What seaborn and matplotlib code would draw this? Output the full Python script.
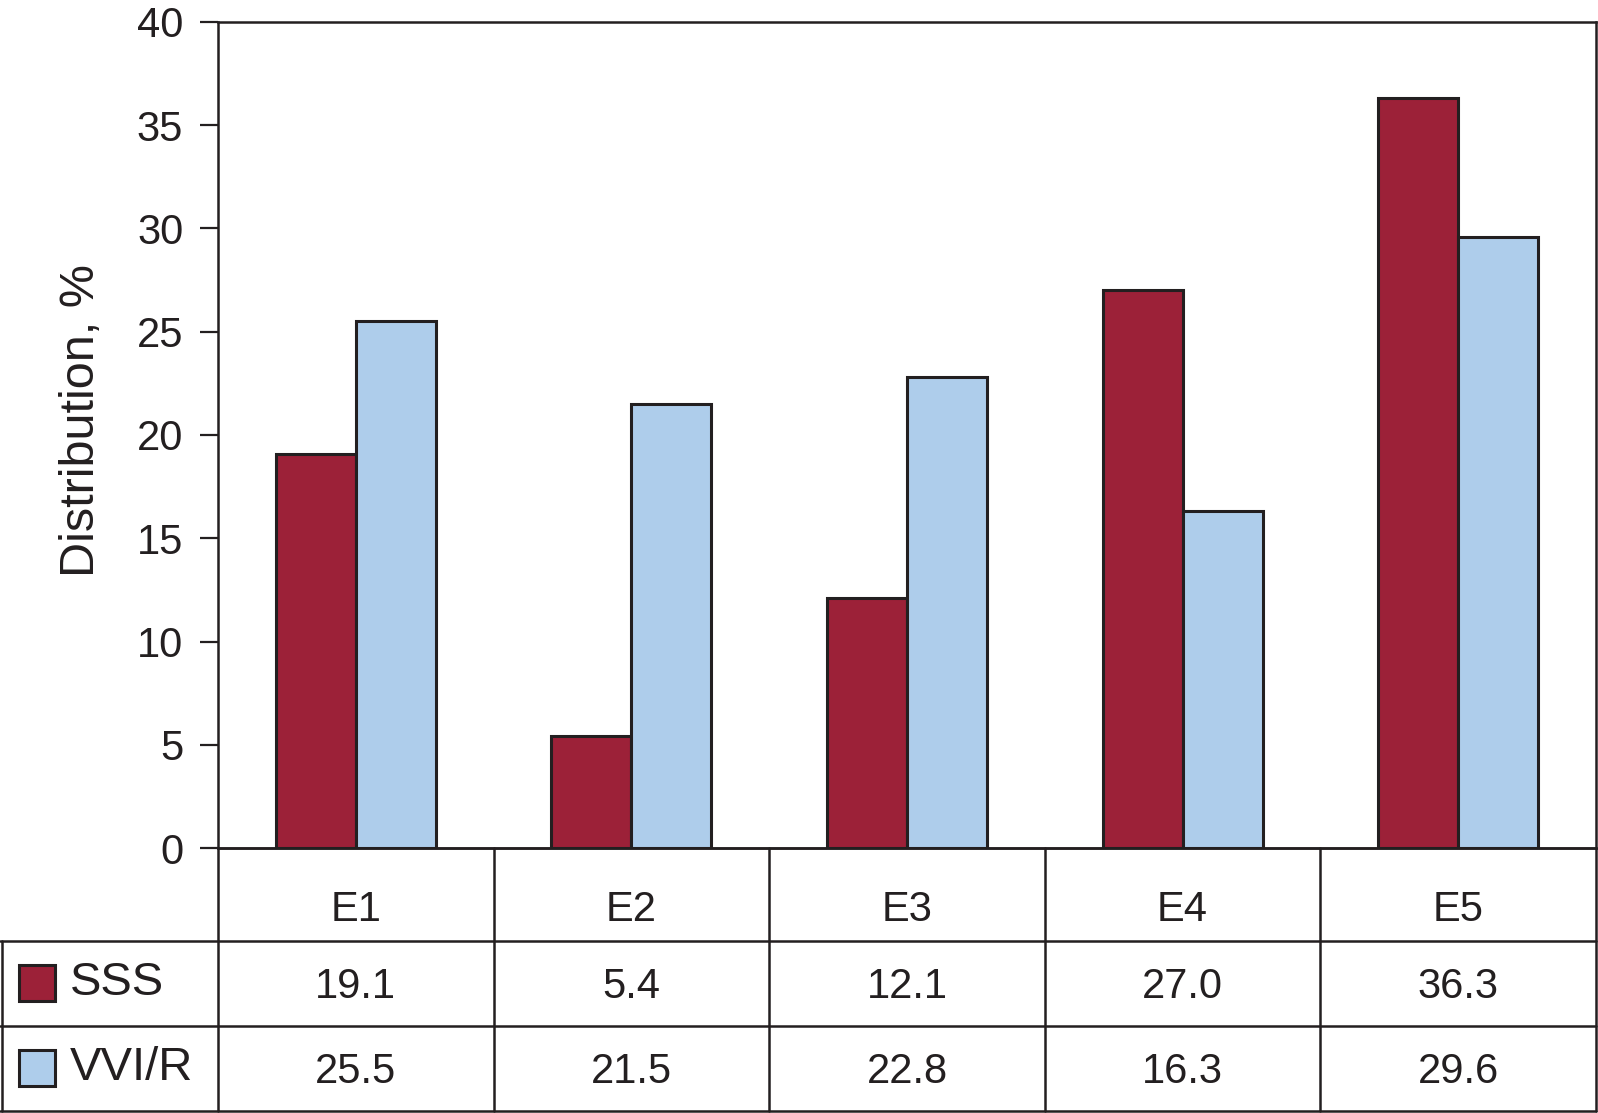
import numpy as np
import pandas as pd
import matplotlib
matplotlib.use("Agg")
import matplotlib.pyplot as plt
import seaborn as sns
from matplotlib.patches import Rectangle

# Datos del gráfico
categorias = ["E1", "E2", "E3", "E4", "E5"]
grupos = ["SSS", "VVI/R"]
sss = [19.1, 5.4, 12.1, 27.0, 36.3]
vvi = [25.5, 21.5, 22.8, 16.3, 29.6]
y_ticks = [0, 5, 10, 15, 20, 25, 30, 35, 40]

colores = {"SSS": "#9c2138", "VVI/R": "#aecdeb"}
borde = "#231f20"

df = pd.DataFrame({
    "cat": categorias * 2,
    "grupo": ["SSS"] * len(categorias) + ["VVI/R"] * len(categorias),
    "valor": sss + vvi,
})

sns.set_style("white")
plt.rcParams["font.family"] = ["Liberation Sans", "DejaVu Sans"]

W, H = 1598, 1113
fig = plt.figure(figsize=(W / 100, H / 100), dpi=100)

# posiciones en pixeles
x0, x1 = 218, 1596
y_top, y_zero = 22, 848
filas = [848, 941, 1026, 1111]

ax = fig.add_axes([x0 / W, 1 - y_zero / H, (x1 - x0) / W, (y_zero - y_top) / H])
sns.barplot(data=df, x="cat", y="valor", hue="grupo", palette=colores,
            width=0.58, edgecolor=borde, linewidth=2.2, ax=ax, legend=False,
            saturation=1)
ax.set_xlim(-0.5, len(categorias) - 0.5)
ax.set_ylim(0, 40)
ax.set_yticks(y_ticks)
ax.set_xticks([])
ax.set_xlabel("")
ax.set_ylabel("Distribution, %", fontsize=35, color="#231f20")
ax.yaxis.set_label_coords(-0.083, 0.517)
ax.tick_params(axis="y", direction="out", length=13, width=1.6, pad=12,
               labelsize=30, colors="#231f20", left=True)
for s in ax.spines.values():
    s.set_color(borde)
    s.set_linewidth(1.8)

# tabla inferior
colw = (x1 - x0) / len(categorias)
izq = -0.5 - x0 / colw
tab = fig.add_axes([0, 1 - filas[-1] / H, x1 / W, (filas[-1] - filas[0]) / H])
tab.set_xlim(izq, len(categorias) - 0.5)
tab.set_ylim(filas[-1], filas[0])
tab.axis("off")

lw = 1.8
# lineas horizontales
tab.plot([-0.5, len(categorias) - 0.5], [filas[0], filas[0]], color=borde, lw=lw, clip_on=False)
for yy in filas[1:]:
    tab.plot([izq, len(categorias) - 0.5], [yy, yy], color=borde, lw=lw, clip_on=False)
# lineas verticales
for i in range(len(categorias) + 1):
    tab.plot([i - 0.5, i - 0.5], [filas[0], filas[-1]], color=borde, lw=lw, clip_on=False)
tab.plot([izq + 0.008, izq + 0.008], [filas[1], filas[-1]], color=borde, lw=lw, clip_on=False)

for i, c in enumerate(categorias):
    tab.text(i, 910, c, ha="center", va="center", fontsize=30, color="#231f20")
    tab.text(i, 987, f"{sss[i]:.1f}", ha="center", va="center", fontsize=30, color="#231f20")
    tab.text(i, 1072, f"{vvi[i]:.1f}", ha="center", va="center", fontsize=30, color="#231f20")

# leyenda dentro de la tabla
for j, (g, yc) in enumerate(zip(grupos, [983, 1068])):
    sq = 36
    tab.add_patch(Rectangle((izq + 19 / colw, yc - sq / 2), sq / colw, sq,
                            facecolor=colores[g], edgecolor=borde, lw=2.2))
    tab.text(izq + 70 / colw, yc, g, ha="left", va="center", fontsize=34, color="#231f20")

fig.savefig("out.png", dpi=100)
